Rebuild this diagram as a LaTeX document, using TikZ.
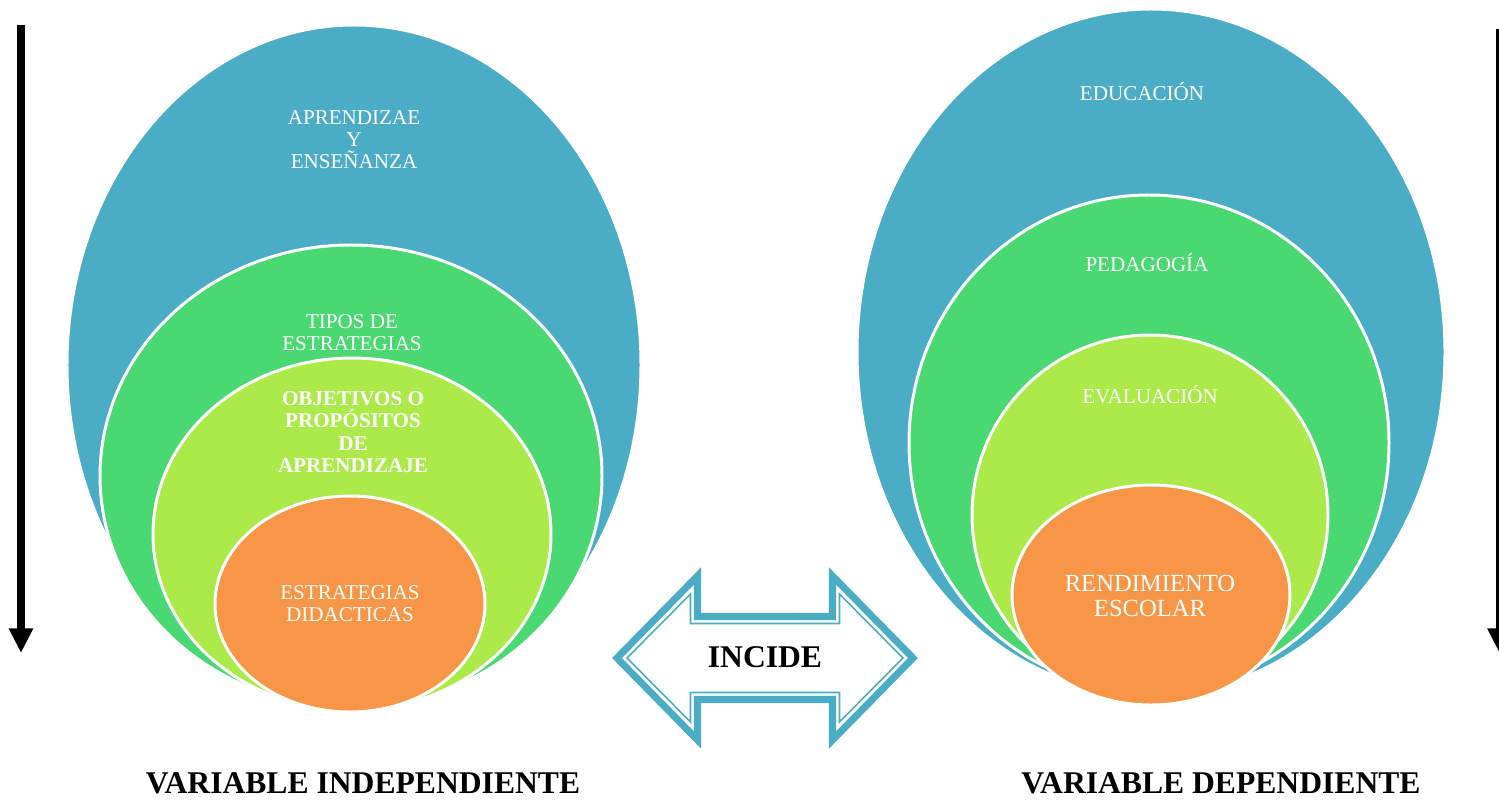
\documentclass[tikz,border=0pt]{standalone}
\usepackage{fontspec}
\setmainfont{Liberation Serif}
\usetikzlibrary{arrows.meta}
\definecolor{azul}{HTML}{4BACC6}
\definecolor{verde}{HTML}{4AD873}
\definecolor{lima}{HTML}{ABEA49}
\definecolor{naranja}{HTML}{F79646}
\begin{document}
\begin{tikzpicture}[x=0.02cm,y=-0.02cm,
  anillo/.style={draw=white,line width=1.7pt},
  rotulo/.style={text=white,align=center,inner sep=0pt,font=\fontsize{12}{12.6}\selectfont},
  grande/.style={inner sep=0pt,font=\fontsize{18}{20}\selectfont\bfseries},
  lateral/.style={line width=4pt,-{Triangle[width=13pt,length=14pt]}}]
\useasboundingbox (0,0) rectangle (1499,801);
% variable independiente
\fill[azul,anillo](354,365) ellipse[x radius=287,y radius=340];
\fill[verde,anillo](351,476) ellipse[x radius=251,y radius=231];
\fill[lima,anillo](352,534) ellipse[x radius=199,y radius=176];
\fill[naranja,anillo](350,604) ellipse[x radius=135,y radius=108];
\node[rotulo] (apr) at (354,140) {APRENDIZAE\\Y\\ENSEÑANZA};
\node[rotulo] (tip) at (352,333) {TIPOS DE\\ESTRATEGIAS};
\node[rotulo,font=\fontsize{12}{12.7}\selectfont\bfseries] (obj) at (353,432) {OBJETIVOS O\\PROPÓSITOS\\DE\\APRENDIZAJE};
\node[rotulo] (est) at (350,604) {ESTRATEGIAS\\DIDACTICAS};
% variable dependiente
\fill[azul,anillo](1151,352) ellipse[x radius=294,y radius=343];
\fill[verde,anillo](1149,443) ellipse[x radius=240,y radius=248];
\fill[lima,anillo](1150,515) ellipse[x radius=178,y radius=180];
\fill[naranja,anillo](1151,595) ellipse[x radius=139,y radius=110];
\node[rotulo] (edu) at (1142,92) {EDUCACIÓN};
\node[rotulo] (ped) at (1147,263) {PEDAGOGÍA};
\node[rotulo] (eva) at (1150,395) {EVALUACIÓN};
\node[rotulo,font=\fontsize{14}{14.3}\selectfont] (ren) at (1150,596) {RENDIMIENTO\\ESCOLAR};
% flecha doble
\draw[azul,line width=4pt,miter limit=4,fill=white](617,658)--(697.5,576)--(697.5,616.5)--(832.5,616.5)--(832.5,576)--(913,658)
  --(832.5,740)--(832.5,699.5)--(697.5,699.5)--(697.5,740)--cycle;
\draw[azul,line width=0.9pt](627,658)--(690.5,594)--(690.5,623.5)--(839.5,623.5)--(839.5,594)--(903,658)
  --(839.5,722)--(839.5,692.5)--(690.5,692.5)--(690.5,722)--cycle;
\node[grande] (inc) at (765,657) {INCIDE};
% flechas laterales
\coordinate (i1) at (21,25); \coordinate (i2) at (21,653);
\coordinate (d1) at (1499.5,29); \coordinate (d2) at (1499.5,653);
\draw[lateral](i1)--(i2);
\draw[lateral](d1)--(d2);
\node[grande] (vi) at (363,783) {VARIABLE INDEPENDIENTE};
\node[grande] (vd) at (1221,783) {VARIABLE DEPENDIENTE};
\end{tikzpicture}
\end{document}
